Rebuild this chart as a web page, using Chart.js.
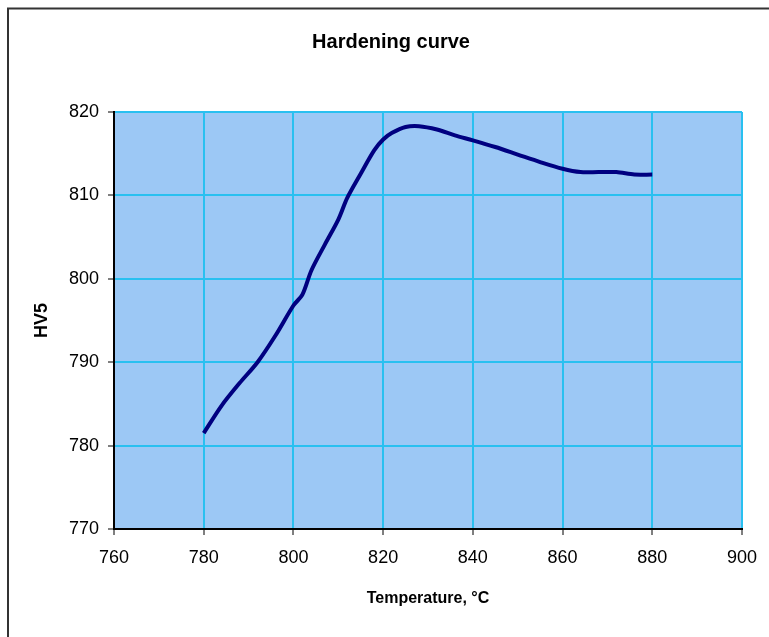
<!DOCTYPE html>
<html>
<head>
<meta charset="utf-8">
<script src="https://cdn.jsdelivr.net/npm/chart.js@4.4.1/dist/chart.umd.min.js"></script>
<style>
  html, body { margin: 0; padding: 0; background: #fff; }
  #wrap { width: 769px; height: 637px; position: relative; }
</style>
</head>
<body>
<div id="wrap"><canvas id="chart"></canvas></div>
<script>
// temperature (°C) and hardness (HV5)
const temps = [780, 784, 788, 792, 796, 800, 802, 804, 807, 810, 812, 815, 818, 820, 822, 825, 828, 832, 836, 840, 845, 850, 855, 860, 864, 868, 872, 876, 880];
const hardness = [781.5, 784.8, 787.5, 790.0, 793.2, 796.8, 798.1, 801.0, 804.1, 807.1, 809.7, 812.6, 815.4, 816.7, 817.5, 818.2, 818.3, 817.9, 817.2, 816.6, 815.8, 814.9, 814.0, 813.2, 812.8, 812.8, 812.8, 812.5, 812.5];

const xTicks = [760, 780, 800, 820, 840, 860, 880, 900];
const yTicks = [770, 780, 790, 800, 810, 820];

const chartTitle = 'Hardening curve';
const xTitle = 'Temperature, °C';
const yTitle = 'HV5';

const points = temps.map((t, i) => ({ x: t, y: hardness[i] }));

// plot area fill, outer frame and the chart title (the excel one sits a bit right of centre)
const frame = {
    id: 'frame',
    beforeDraw(chart) {
        const ctx = chart.ctx;
        const a = chart.chartArea;
        ctx.save();
        ctx.fillStyle = '#fff';
        ctx.fillRect(0, 0, chart.width, chart.height);
        ctx.fillStyle = '#9CC8F5';
        ctx.fillRect(a.left, a.top, a.right - a.left, a.bottom - a.top);
        ctx.strokeStyle = '#333';
        ctx.lineWidth = 2;
        ctx.strokeRect(8, 8.5, 800, 700);
        ctx.restore();
    },
    afterDraw(chart) {
        const ctx = chart.ctx;
        ctx.save();
        ctx.fillStyle = '#000';
        ctx.font = 'bold 20px "Liberation Sans"';
        ctx.textAlign = 'center';
        ctx.textBaseline = 'middle';
        ctx.fillText(chartTitle, 391, 42);
        ctx.restore();
    }
};

new Chart(document.getElementById('chart'), {
    type: 'line',
    data: {
        datasets: [{
            data: points,
            borderColor: '#000080',
            borderWidth: 4,
            pointRadius: 0,
            tension: 0.3,
            fill: false
        }]
    },
    options: {
        responsive: true,
        maintainAspectRatio: false,
        animation: false,
        layout: { padding: { left: 0, top: 112, right: 26, bottom: 0 } },
        plugins: {
            legend: { display: false },
            tooltip: { enabled: false },
            title: { display: false }
        },
        scales: {
            x: {
                type: 'linear',
                min: 760,
                max: 900,
                afterFit: s => { s.height = 108; },
                afterBuildTicks: s => { s.ticks = xTicks.map(v => ({ value: v })); },
                ticks: {
                    color: '#000',
                    font: { family: 'Liberation Sans', size: 18 },
                    padding: 12,
                    maxRotation: 0
                },
                grid: { color: '#29C0F0', lineWidth: 2, tickColor: '#000', tickLength: 6, tickWidth: 1 },
                border: { color: '#000', width: 2 },
                title: {
                    display: true,
                    text: xTitle,
                    color: '#000',
                    font: { family: 'Liberation Sans', size: 16, weight: 'bold' },
                    padding: { top: 0, bottom: 29 }
                }
            },
            y: {
                min: 770,
                max: 820,
                afterFit: s => { s.width = 114; },
                afterBuildTicks: s => { s.ticks = yTicks.map(v => ({ value: v })); },
                ticks: {
                    color: '#000',
                    font: { family: 'Liberation Sans', size: 18 },
                    padding: 9
                },
                grid: { color: '#29C0F0', lineWidth: 2, tickColor: '#000', tickLength: 6, tickWidth: 1 },
                border: { color: '#000', width: 2 },
                title: {
                    display: true,
                    text: yTitle,
                    color: '#000',
                    font: { family: 'Liberation Sans', size: 18, weight: 'bold' },
                    padding: { top: 31, bottom: 0 }
                }
            }
        }
    },
    plugins: [frame]
});
</script>
</body>
</html>
